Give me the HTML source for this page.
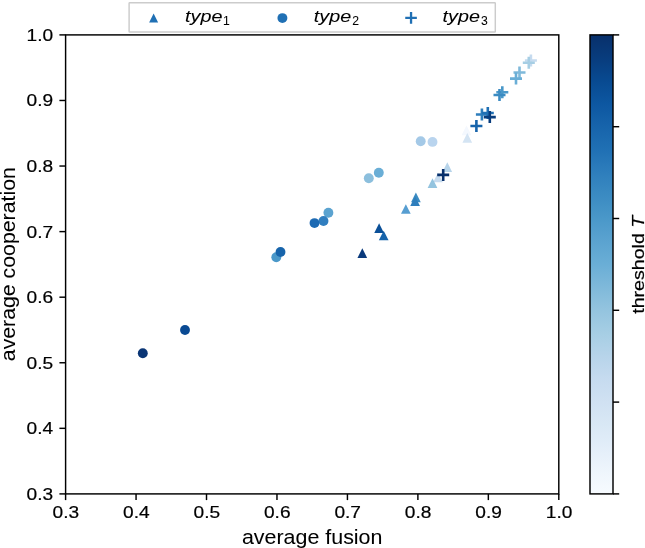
<!DOCTYPE html>
<html><head><meta charset="utf-8"><style>
html,body{margin:0;padding:0;background:#fff;}
svg{display:block;will-change:transform;}
svg .ns text{stroke-width:0.05px;}
svg text{font-family:"Liberation Sans",sans-serif;fill:#000;stroke:#000;stroke-width:0.2px;}
</style></head><body>
<svg width="645" height="548" viewBox="0 0 645 548">
<defs><linearGradient id="cb" x1="0" y1="0" x2="0" y2="1">
<stop offset="0.000" stop-color="#08306b"/>
<stop offset="0.050" stop-color="#083c7d"/>
<stop offset="0.100" stop-color="#084a91"/>
<stop offset="0.150" stop-color="#0d57a1"/>
<stop offset="0.200" stop-color="#1764ab"/>
<stop offset="0.250" stop-color="#2070b4"/>
<stop offset="0.300" stop-color="#2e7ebc"/>
<stop offset="0.350" stop-color="#3b8bc2"/>
<stop offset="0.400" stop-color="#4a98c9"/>
<stop offset="0.450" stop-color="#5ba3d0"/>
<stop offset="0.500" stop-color="#6aaed6"/>
<stop offset="0.550" stop-color="#7fb9da"/>
<stop offset="0.600" stop-color="#94c4df"/>
<stop offset="0.650" stop-color="#a6cee4"/>
<stop offset="0.700" stop-color="#b7d4ea"/>
<stop offset="0.750" stop-color="#c6dbef"/>
<stop offset="0.800" stop-color="#d0e1f2"/>
<stop offset="0.850" stop-color="#d9e8f5"/>
<stop offset="0.900" stop-color="#e3eef9"/>
<stop offset="0.950" stop-color="#eef5fc"/>
<stop offset="1.000" stop-color="#f7fbff"/>
</linearGradient></defs>
<rect width="645" height="548" fill="#fff"/>
<g>
<circle cx="432.50" cy="141.90" r="4.95" fill="#b9d4ee"/>
<circle cx="420.70" cy="141.20" r="4.95" fill="#a4c9e7"/>
<circle cx="368.80" cy="178.20" r="4.95" fill="#8cbfdd"/>
<circle cx="378.80" cy="172.70" r="4.95" fill="#6aaed6"/>
<circle cx="328.40" cy="212.80" r="4.95" fill="#5ba3d0"/>
<circle cx="276.30" cy="257.20" r="4.95" fill="#4a98c9"/>
<circle cx="323.50" cy="221.00" r="4.95" fill="#307ebf"/>
<circle cx="314.50" cy="223.10" r="4.95" fill="#1d6ab3"/>
<circle cx="280.50" cy="252.00" r="4.95" fill="#1764ab"/>
<circle cx="185.00" cy="330.00" r="4.95" fill="#0a4a93"/>
<circle cx="142.80" cy="353.25" r="4.95" fill="#0a3575"/>
<path d="M466.50 125.45L461.65 135.15L471.35 135.15Z" fill="#f4f8fe"/>
<path d="M467.30 132.95L462.45 142.65L472.15 142.65Z" fill="#d4e4f3"/>
<path d="M438.00 172.65L433.15 182.35L442.85 182.35Z" fill="#c6dbef"/>
<path d="M447.30 162.25L442.45 171.95L452.15 171.95Z" fill="#b7d4ea"/>
<path d="M432.50 178.20L427.65 187.90L437.35 187.90Z" fill="#94c4df"/>
<path d="M405.85 204.15L401.00 213.85L410.70 213.85Z" fill="#579ed1"/>
<path d="M415.90 192.45L411.05 202.15L420.75 202.15Z" fill="#3b8bc2"/>
<path d="M415.10 196.35L410.25 206.05L419.95 206.05Z" fill="#2e7ebc"/>
<path d="M383.70 230.65L378.85 240.35L388.55 240.35Z" fill="#1764ab"/>
<path d="M379.10 223.25L374.25 232.95L383.95 232.95Z" fill="#0b5098"/>
<path d="M362.30 248.25L357.45 257.95L367.15 257.95Z" fill="#0a3a7c"/>
<path d="M524.90 60.50H536.90M530.90 54.50V66.50" stroke="#c6dbef" stroke-width="2.6" fill="none"/>
<path d="M522.80 62.70H534.80M528.80 56.70V68.70" stroke="#a6cee4" stroke-width="2.6" fill="none"/>
<path d="M513.50 72.50H525.50M519.50 66.50V78.50" stroke="#7fb9da" stroke-width="2.6" fill="none"/>
<path d="M510.00 78.60H522.00M516.00 72.60V84.60" stroke="#6aaed6" stroke-width="2.6" fill="none"/>
<path d="M496.30 92.20H508.30M502.30 86.20V98.20" stroke="#4a98c9" stroke-width="2.6" fill="none"/>
<path d="M493.50 95.00H505.50M499.50 89.00V101.00" stroke="#3b8bc2" stroke-width="2.6" fill="none"/>
<path d="M475.90 114.50H487.90M481.90 108.50V120.50" stroke="#2e7ebc" stroke-width="2.6" fill="none"/>
<path d="M481.80 113.00H493.80M487.80 107.00V119.00" stroke="#2070b4" stroke-width="2.6" fill="none"/>
<path d="M470.40 126.00H482.40M476.40 120.00V132.00" stroke="#1764ab" stroke-width="2.6" fill="none"/>
<path d="M483.80 117.10H495.80M489.80 111.10V123.10" stroke="#083c7d" stroke-width="2.6" fill="none"/>
<path d="M437.20 174.90H449.20M443.20 168.90V180.90" stroke="#08306b" stroke-width="2.6" fill="none"/>
</g>
<rect x="65.60" y="34.90" width="493.20" height="459.00" fill="none" stroke="#000" stroke-width="1.45"/>
<g stroke="#000" stroke-width="1.45" fill="none">
<path d="M65.60 493.90V500.10"/>
<path d="M65.60 493.90H59.40"/>
<path d="M136.06 493.90V500.10"/>
<path d="M65.60 428.33H59.40"/>
<path d="M206.51 493.90V500.10"/>
<path d="M65.60 362.76H59.40"/>
<path d="M276.97 493.90V500.10"/>
<path d="M65.60 297.19H59.40"/>
<path d="M347.43 493.90V500.10"/>
<path d="M65.60 231.61H59.40"/>
<path d="M417.89 493.90V500.10"/>
<path d="M65.60 166.04H59.40"/>
<path d="M488.34 493.90V500.10"/>
<path d="M65.60 100.47H59.40"/>
<path d="M558.80 493.90V500.10"/>
<path d="M65.60 34.90H59.40"/>
<path d="M613.00 34.90H619.20"/>
<path d="M613.00 126.70H619.20"/>
<path d="M613.00 218.50H619.20"/>
<path d="M613.00 310.30H619.20"/>
<path d="M613.00 402.10H619.20"/>
<path d="M613.00 493.90H619.20"/>
</g>
<g font-size="16.8">
<text x="65.90" y="517.90" text-anchor="middle" textLength="26.6" lengthAdjust="spacingAndGlyphs">0.3</text>
<text x="53.10" y="499.90" text-anchor="end" textLength="26.6" lengthAdjust="spacingAndGlyphs">0.3</text>
<text x="136.36" y="517.90" text-anchor="middle" textLength="26.6" lengthAdjust="spacingAndGlyphs">0.4</text>
<text x="53.10" y="434.33" text-anchor="end" textLength="26.6" lengthAdjust="spacingAndGlyphs">0.4</text>
<text x="206.81" y="517.90" text-anchor="middle" textLength="26.6" lengthAdjust="spacingAndGlyphs">0.5</text>
<text x="53.10" y="368.76" text-anchor="end" textLength="26.6" lengthAdjust="spacingAndGlyphs">0.5</text>
<text x="277.27" y="517.90" text-anchor="middle" textLength="26.6" lengthAdjust="spacingAndGlyphs">0.6</text>
<text x="53.10" y="303.19" text-anchor="end" textLength="26.6" lengthAdjust="spacingAndGlyphs">0.6</text>
<text x="347.73" y="517.90" text-anchor="middle" textLength="26.6" lengthAdjust="spacingAndGlyphs">0.7</text>
<text x="53.10" y="237.61" text-anchor="end" textLength="26.6" lengthAdjust="spacingAndGlyphs">0.7</text>
<text x="418.19" y="517.90" text-anchor="middle" textLength="26.6" lengthAdjust="spacingAndGlyphs">0.8</text>
<text x="53.10" y="172.04" text-anchor="end" textLength="26.6" lengthAdjust="spacingAndGlyphs">0.8</text>
<text x="488.64" y="517.90" text-anchor="middle" textLength="26.6" lengthAdjust="spacingAndGlyphs">0.9</text>
<text x="53.10" y="106.47" text-anchor="end" textLength="26.6" lengthAdjust="spacingAndGlyphs">0.9</text>
<text x="559.10" y="517.90" text-anchor="middle" textLength="26.6" lengthAdjust="spacingAndGlyphs">1.0</text>
<text x="53.10" y="40.90" text-anchor="end" textLength="26.6" lengthAdjust="spacingAndGlyphs">1.0</text>
</g>
<text x="312.20" y="543.6" text-anchor="middle" font-size="20.7" style="stroke-width:0.05px" textLength="140.5" lengthAdjust="spacingAndGlyphs">average fusion</text>
<text transform="translate(14.8 264.2) rotate(-90)" x="0" y="0" text-anchor="middle" font-size="20.7" style="stroke-width:0.05px" textLength="194" lengthAdjust="spacingAndGlyphs">average cooperation</text>
<rect x="590.00" y="34.90" width="23.00" height="459.00" fill="url(#cb)" stroke="#000" stroke-width="1.45"/>
<text transform="translate(644.0 264.8) rotate(-90)" x="0" y="0" text-anchor="middle" font-size="16.8" textLength="98" lengthAdjust="spacingAndGlyphs">threshold <tspan font-style="italic">T</tspan></text>
<!-- legend -->
<rect x="129.1" y="2.8" width="366.2" height="29.3" rx="0.6" fill="#fff" fill-opacity="0.8" stroke="#cccccc" stroke-width="1.45"/>
<path d="M153.60 13.40L149.10 22.40L158.10 22.40Z" fill="#2070b4"/>
<circle cx="282.40" cy="18.10" r="4.95" fill="#2070b4"/>
<path d="M405.25 17.85H416.85M411.05 12.05V23.65" stroke="#2070b4" stroke-width="2.3" fill="none"/>
<g font-size="17" font-style="italic" class="ns">
<text x="185.0" y="22.3" textLength="37.4" lengthAdjust="spacingAndGlyphs">type</text>
<text x="313.8" y="22.3" textLength="37.4" lengthAdjust="spacingAndGlyphs">type</text>
<text x="442.6" y="22.3" textLength="37.4" lengthAdjust="spacingAndGlyphs">type</text>
</g>
<g font-size="12.2" class="ns">
<text x="223.0" y="24.6">1</text>
<text x="352.3" y="24.6">2</text>
<text x="481.0" y="24.6">3</text>
</g>
</svg>
</body></html>
